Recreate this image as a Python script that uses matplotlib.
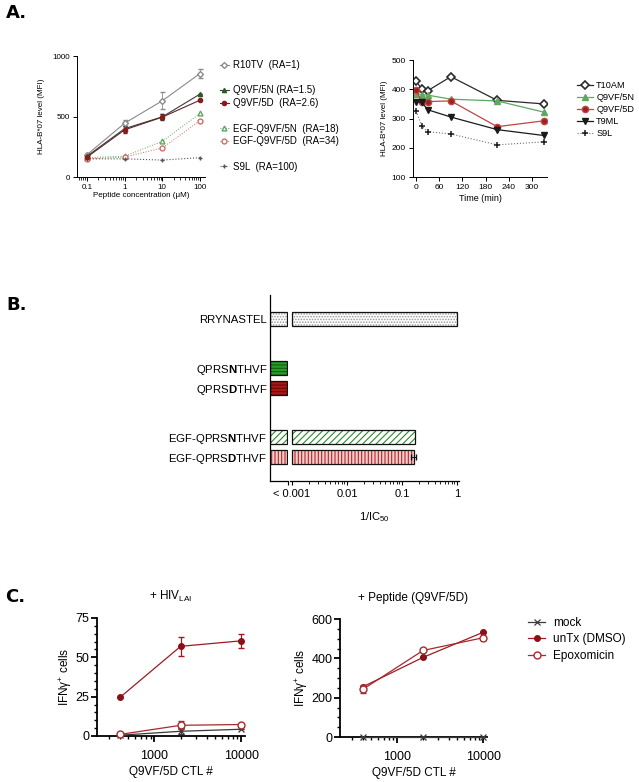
import matplotlib
matplotlib.use('Agg')
import matplotlib.pyplot as plt
from matplotlib.lines import Line2D
from matplotlib.ticker import LogLocator, NullFormatter, MultipleLocator

plt.rcParams['font.family'] = ['Liberation Sans', 'DejaVu Sans']
plt.rcParams['mathtext.fontset'] = 'custom'
plt.rcParams['mathtext.rm'] = 'Liberation Sans'
plt.rcParams['mathtext.it'] = 'Liberation Sans:italic'
plt.rcParams['mathtext.bf'] = 'Liberation Sans:bold'
plt.rcParams['hatch.linewidth'] = 0.8

# ---- panel A left: binding vs peptide concentration
conc = [0.1, 1, 10, 100]
r10tv = [185, 445, 630, 855]
r10tv_err = [15, 30, 70, 40]
q9vf5n = [172, 400, 497, 685]
q9vf5n_err = [12, 25, 20, 0]
q9vf5d = [165, 390, 495, 635]
q9vf5d_err = [10, 30, 25, 0]
egf5n = [160, 172, 295, 525]
egf5d = [150, 165, 240, 465]
s9l_conc = [150, 150, 140, 160]
labels_a1 = ['R10TV  (RA=1)', 'Q9VF/5N (RA=1.5)', 'Q9VF/5D  (RA=2.6)',
             'EGF-Q9VF/5N  (RA=18)', 'EGF-Q9VF/5D  (RA=34)', 'S9L  (RA=100)']

# ---- panel A right: stability over time
time_min = [0, 15, 30, 90, 210, 330]
t10am = [428, 400, 395, 443, 362, 350]
q9vf5n_t = [385, 382, 380, 366, 360, 322]
q9vf5d_t = [398, 355, 358, 360, 272, 292]
t9ml = [358, 355, 330, 305, 262, 242]
s9l_t = [325, 273, 255, 247, 210, 220]
labels_a2 = ['T10AM', 'Q9VF/5N', 'Q9VF/5D', 'T9ML', 'S9L']

# ---- panel B: 1/IC50 (0 means "< 0.001")
peptides = ['RRYNASTEL', r'QPRS$\mathbf{N}$THVF', r'QPRS$\mathbf{D}$THVF',
            r'EGF-QPRS$\mathbf{N}$THVF', r'EGF-QPRS$\mathbf{D}$THVF']
inv_ic50 = [1.0, 0, 0, 0.17, 0.162]
inv_ic50_err = [0, 0, 0, 0, 0.014]

# ---- panel C: IFNg+ cells vs CTL number
ctl = [400, 2000, 10000]
hiv_mock = [0.5, 3, 4.3]
hiv_mock_err = [0, 2, 0]
hiv_untx = [24.5, 57, 60.5]
hiv_untx_err = [0, 6, 4.5]
hiv_epox = [1, 6.8, 7.3]
hiv_epox_err = [0, 2.5, 0]
pep_mock = [0, 0, 0]
pep_untx = [255, 405, 533]
pep_epox = [242, 440, 505]
pep_epox_err = [20, 0, 10]
labels_c = ['mock', 'unTx (DMSO)', 'Epoxomicin']

W, H = 639, 782
fig = plt.figure(figsize=(W / 100, H / 100), dpi=100)


def box(l, t, r, b):
    return fig.add_axes([l / W, 1 - b / H, (r - l) / W, (b - t) / H])


def prism(ax, lw=0.8, size=6):
    for s in ['top', 'right']:
        ax.spines[s].set_visible(False)
    for s in ['left', 'bottom']:
        ax.spines[s].set_linewidth(lw)
    ax.tick_params(direction='out', width=lw, length=3, labelsize=size, pad=2)
    ax.tick_params(which='minor', direction='out', width=lw * 0.8, length=1.8)


def legend_at(handles, labels, x, y, size, hl, htp, ls):
    fig.legend(handles, labels, loc='upper left', bbox_to_anchor=(x / W, 1 - y / H),
               frameon=False, fontsize=size, handlelength=hl, handletextpad=htp,
               labelspacing=ls, borderpad=0, borderaxespad=0)


# ================= A left
ax = box(77, 56, 205, 177)
prism(ax, 0.7, 5.8)
ax.set_xscale('log')
ax.set_xlim(0.054, 136)
ax.set_ylim(0, 1000)
ax.set_yticks([0, 500, 1000])
ax.set_xticks(conc)
ax.set_xticklabels(['0.1', '1', '10', '100'])
ax.xaxis.set_minor_locator(LogLocator(subs=range(2, 10)))
ax.xaxis.set_minor_formatter(NullFormatter())
ax.set_xlabel(u'Peptide concentration (\u03bcM)', fontsize=5.8, labelpad=1)
ax.set_ylabel('HLA-B*07 level (MFI)', fontsize=5.8, labelpad=5)

c_r10, c_5n, c_5d = '#8a8a8a', '#1f5f1f', '#8b1a1a'
c_e5n, c_e5d, c_s9 = '#5fa85f', '#d46a6a', '#555555'
h1 = ax.errorbar(conc, r10tv, yerr=r10tv_err, color=c_r10, lw=0.8, marker='D', ms=3,
                 mfc='white', mec=c_r10, capsize=1.8, elinewidth=0.6)
h2 = ax.errorbar(conc, q9vf5n, yerr=q9vf5n_err, color='#3d3d3d', lw=0.8, marker='^', ms=3,
                 mfc=c_5n, mec=c_5n, capsize=1.5, elinewidth=0.6)
h3 = ax.errorbar(conc, q9vf5d, yerr=q9vf5d_err, color='#5a2a2a', lw=0.8, marker='o', ms=3,
                 mfc=c_5d, mec=c_5d, capsize=1.5, elinewidth=0.6)
h4, = ax.plot(conc, egf5n, color=c_e5n, lw=0.7, ls=':', marker='^', ms=3.5, mfc='white', mec=c_e5n)
h5, = ax.plot(conc, egf5d, color=c_e5d, lw=0.7, ls=':', marker='o', ms=3.5, mfc='white', mec=c_e5d)
h6, = ax.plot(conc, s9l_conc, color=c_s9, lw=0.8, ls=':', marker='+', ms=3.5, mec=c_s9)

blank = Line2D([], [], ls='none', marker=None)
hs = [h1[0], blank, h2[0], h3[0], blank, h4, h5, blank, h6]
ls = [labels_a1[0], ' ', labels_a1[1], labels_a1[2], ' ', labels_a1[3], labels_a1[4], ' ', labels_a1[5]]
legend_at(hs, ls, 220, 60, 7, 0.9, 0.4, 0.28)

# ================= A right
ax = box(413, 60, 547, 177)
prism(ax, 0.7, 6)
ax.set_xlim(-8, 339)
ax.set_ylim(100, 500)
ax.set_xticks(range(0, 301, 60))
ax.set_yticks(range(100, 501, 100))
ax.set_xlabel('Time (min)', fontsize=6.5, labelpad=2)
ax.set_ylabel('HLA-B*07 level (MFI)', fontsize=5.8, labelpad=3)
g1, = ax.plot(time_min, t10am, color='#2a2a2a', lw=0.9, marker='D', ms=4, mfc='white',
              mec='#2a2a2a', mew=1.2)
g2, = ax.plot(time_min, q9vf5n_t, color='#5fa85f', lw=0.9, marker='^', ms=4, mfc='#5fa85f', mec='#5fa85f')
g3, = ax.plot(time_min, q9vf5d_t, color='#c04545', lw=0.9, marker='o', ms=4.5, mfc='#a02020', mec='#c04545')
g4, = ax.plot(time_min, t9ml, color='#1a1a1a', lw=0.9, marker='v', ms=4, mfc='#1a1a1a', mec='#1a1a1a')
g5, = ax.plot(time_min, s9l_t, color='#707070', lw=0.8, ls=':', marker='+', ms=5, mec='#1a1a1a', mew=1.1)
legend_at([g1, g2, g3, g4, g5], labels_a2, 577, 81, 6.6, 1.7, 0.4, 0.33)

# ================= B (broken log axis)
ypos = [0, 2.45, 3.45, 5.9, 6.9]
styles = [('white', '......', '#9a9a9a'),
          ('#2a9a2a', '-----', '#106010'),
          ('#b01515', '-----', '#6a0a0a'),
          ('white', '/////', '#2a8a2a'),
          ('#f2d0d0', '|||||', '#c02020')]

stub = box(270, 295, 288, 481)
logax = box(290, 295, 459, 481)
for a in (stub, logax):
    a.set_ylim(8.1, -1.2)
    a.spines['top'].set_visible(False)
    a.spines['right'].set_visible(False)
    a.spines['bottom'].set_linewidth(0.9)
    a.spines['left'].set_linewidth(0.9)
logax.spines['left'].set_visible(False)
logax.set_yticks([])

stub.set_xlim(0, 1)
stub.set_xticks([1])
stub.set_xticklabels([''])
stub.tick_params(axis='x', direction='out', length=3, width=0.8)
stub.set_yticks(ypos)
stub.set_yticklabels(peptides, fontsize=8.2)
stub.tick_params(axis='y', length=0, pad=2)

logax.set_xscale('log')
logax.set_xlim(0.00092, 1.087)
logax.set_xticks([0.001, 0.01, 0.1, 1])
logax.set_xticklabels(['< 0.001', '0.01', '0.1', '1'], fontsize=8)
logax.xaxis.set_minor_locator(LogLocator(subs=range(2, 10)))
logax.xaxis.set_minor_formatter(NullFormatter())
logax.tick_params(axis='x', which='major', direction='out', length=3, width=0.8, pad=3)
logax.tick_params(axis='x', which='minor', direction='out', length=1.8, width=0.6)
logax.set_xlabel('1/IC$_{50}$', fontsize=8, labelpad=8)

for y, v, e, (fc, ht, hc) in zip(ypos, inv_ic50, inv_ic50_err, styles):
    stub.barh(y, 0.95, left=0, height=0.7, color=fc, hatch=ht, edgecolor=hc, linewidth=0)
    stub.barh(y, 0.95, left=0, height=0.7, fill=False, edgecolor='#111111', linewidth=0.9)
    if v > 0.001:
        logax.barh(y, v - 0.001, left=0.001, height=0.7, color=fc, hatch=ht, edgecolor=hc, linewidth=0)
        logax.barh(y, v - 0.001, left=0.001, height=0.7, fill=False, edgecolor='#111111', linewidth=0.9)
        if e > 0:
            logax.errorbar(v, y, xerr=e, color='#111111', lw=0.7, capsize=2.5)


# ================= C
def c_panel(ax, mock, untx, epox, mock_err, untx_err, epox_err, ymax, ystep, yminor, title):
    prism(ax, 1.3, 9)
    ax.tick_params(axis='x', length=4, pad=6)
    ax.tick_params(axis='y', length=4, pad=1.5)
    ax.tick_params(which='minor', length=2.2, width=1.0)
    ax.set_xscale('log')
    ax.set_xlim(218, 11000)
    ax.set_ylim(0, ymax)
    ax.set_yticks(range(0, ymax + 1, ystep))
    ax.yaxis.set_minor_locator(MultipleLocator(yminor))
    ax.set_xticks([1000, 10000])
    ax.set_xticklabels(['1000', '10000'])
    ax.xaxis.set_minor_locator(LogLocator(subs=range(2, 10)))
    ax.xaxis.set_minor_formatter(NullFormatter())
    ax.set_xlabel('Q9VF/5D CTL #', fontsize=8.5, labelpad=3)
    ax.set_ylabel(u'IFN\u03b3$^{+}$ cells', fontsize=8.5, labelpad=1)
    ax.set_title(title, fontsize=8.5, pad=13)
    m = ax.errorbar(ctl, mock, yerr=mock_err, color='#3a3a3a', lw=0.9, marker='x', ms=4,
                    mew=0.9, capsize=2, elinewidth=0.8, clip_on=False, zorder=3)
    u = ax.errorbar(ctl, untx, yerr=untx_err, color='#9a1c24', lw=0.9, marker='o', ms=4,
                    mfc='#8b1018', mec='#8b1018', capsize=2.5, elinewidth=0.9, clip_on=False, zorder=4)
    p = ax.errorbar(ctl, epox, yerr=epox_err, color='#a8282f', lw=0.9, marker='o', ms=5,
                    mfc='white', mec='#a8282f', capsize=2.5, elinewidth=0.9, clip_on=False, zorder=5)
    return m, u, p


ax_c1 = box(97, 618, 245, 736)
c_panel(ax_c1, hiv_mock, hiv_untx, hiv_epox, hiv_mock_err, hiv_untx_err, hiv_epox_err,
        75, 25, 5, r'+ HIV$_{\mathrm{LAI}}$')
ax_c2 = box(340, 619, 487, 737)
hm, hu, he = c_panel(ax_c2, pep_mock, pep_untx, pep_epox, [0, 0, 0], [0, 0, 0], pep_epox_err,
                     600, 200, 50, '+ Peptide (Q9VF/5D)')
legend_at([hm[0], hu[0], he[0]], labels_c, 528, 617, 8.5, 1.45, 0.7, 0.38)

# panel letters
for txt, x, y in [('A.', 6, 18), ('B.', 6, 310), ('C.', 5, 602)]:
    fig.text(x / W, 1 - y / H, txt, fontsize=13, fontweight='bold', family='DejaVu Sans')

fig.savefig('out.png', dpi=100)
